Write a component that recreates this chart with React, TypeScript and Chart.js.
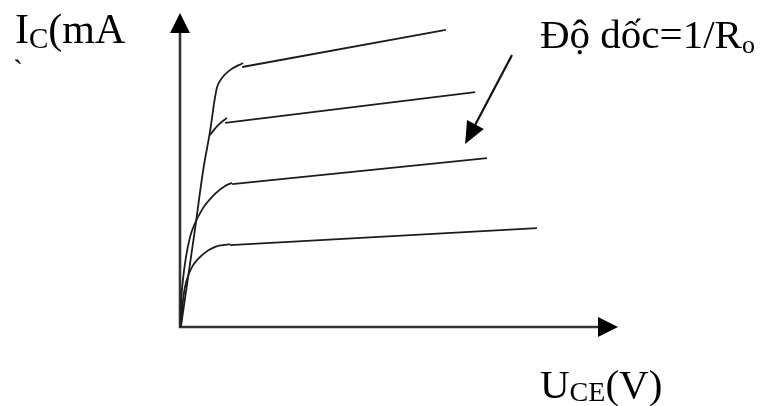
import React, { useEffect, useRef } from "react";
import { Chart, registerables } from "chart.js";

Chart.register(...registerables);

// Axis ranges (arbitrary units: U_CE in V, I_C in mA)
const U_MAX = 10;
const I_MAX = 10;

// Output characteristics: rising (saturation) parts and flat (active) parts
const steepAndTop: [number, number][] = [
  [0.02, 0], [0.34, 3.09], [0.53, 5.0], [0.68, 6.18], [0.84, 7.61], [0.94, 7.9], [1.14, 8.18], [1.44, 8.41],
];
const curve4Flat: [number, number][] = [[1.42, 8.28], [6.07, 9.46]];
const curve3Knee: [number, number][] = [[0.68, 6.11], [0.87, 6.43], [1.07, 6.66]];
const curve3Flat: [number, number][] = [[1.03, 6.5], [6.74, 7.48]];
const curve2Knee: [number, number][] = [
  [0.02, 0.06], [0.05, 1.27], [0.23, 2.87], [0.5, 3.73], [0.8, 4.24], [1.03, 4.49], [1.19, 4.59],
];
const curve2Flat: [number, number][] = [[1.19, 4.55], [7.01, 5.38]];
const curve1Knee: [number, number][] = [
  [0.02, 0.06], [0.07, 0.86], [0.14, 1.43], [0.3, 1.97], [0.53, 2.32], [0.8, 2.55], [1.14, 2.64],
];
const curve1Flat: [number, number][] = [[1.14, 2.61], [8.15, 3.15]];

// Slope annotation arrow (from, to) in data units
const slopeArrow: [number, number][] = [[7.58, 8.66], [6.51, 5.83]];

const yLabelMain = "I";
const yLabelSub = "C";
const yLabelRest = "(mA";
const xLabelMain = "U";
const xLabelSub = "CE";
const xLabelRest = "(V)";
const slopeLabel = "Độ dốc=1/R";
const slopeLabelSub = "o";

const FONT = "'Liberation Serif', 'Times New Roman', serif";

function toPts(a: [number, number][]) {
  return a.map(([x, y]) => ({ x, y }));
}

function triangle(ctx: CanvasRenderingContext2D, tipX: number, tipY: number, dx: number, dy: number, len: number, half: number) {
  const bx = tipX - dx * len;
  const by = tipY - dy * len;
  const px = -dy, py = dx;
  ctx.beginPath();
  ctx.moveTo(tipX, tipY);
  ctx.lineTo(bx + px * half, by + py * half);
  ctx.lineTo(bx - px * half, by - py * half);
  ctx.closePath();
  ctx.fill();
}

const decorPlugin = {
  id: "decor",
  beforeDatasetsDraw(chart: any) {
    const ctx: CanvasRenderingContext2D = chart.ctx;
    const xs = chart.scales.x, ys = chart.scales.y;
    const x0 = xs.getPixelForValue(0), y0 = ys.getPixelForValue(0);
    const xTip = xs.getPixelForValue(U_MAX), yTip = ys.getPixelForValue(I_MAX);
    ctx.save();
    ctx.strokeStyle = "#333";
    ctx.fillStyle = "#000";
    ctx.lineWidth = 2.6;
    ctx.beginPath();
    ctx.moveTo(x0, y0 + 1);
    ctx.lineTo(x0, yTip + 15);
    ctx.moveTo(x0 - 1, y0);
    ctx.lineTo(xTip - 15, y0);
    ctx.stroke();
    triangle(ctx, x0, yTip, 0, -1, 20, 10);
    triangle(ctx, xTip, y0, 1, 0, 20, 10);
    ctx.restore();
  },
  afterDatasetsDraw(chart: any) {
    const ctx: CanvasRenderingContext2D = chart.ctx;
    const xs = chart.scales.x, ys = chart.scales.y;
    ctx.save();
    // slope arrow
    const ax = xs.getPixelForValue(slopeArrow[0][0]), ay = ys.getPixelForValue(slopeArrow[0][1]);
    const bx = xs.getPixelForValue(slopeArrow[1][0]), by = ys.getPixelForValue(slopeArrow[1][1]);
    const L = Math.hypot(bx - ax, by - ay);
    const dx = (bx - ax) / L, dy = (by - ay) / L;
    ctx.strokeStyle = "#111";
    ctx.fillStyle = "#000";
    ctx.lineWidth = 2.2;
    ctx.beginPath();
    ctx.moveTo(ax, ay);
    ctx.lineTo(bx - dx * 16, by - dy * 16);
    ctx.stroke();
    triangle(ctx, bx, by, dx, dy, 22, 9.5);

    // texts
    ctx.fillStyle = "#000";
    ctx.textBaseline = "alphabetic";
    ctx.textAlign = "left";
    const big = `41px ${FONT}`;
    const small = `28px ${FONT}`;
    // y label
    let x = 15;
    ctx.font = `42px ${FONT}`;
    ctx.fillText(yLabelMain, x, 43);
    x += ctx.measureText(yLabelMain).width;
    ctx.font = `29px ${FONT}`;
    ctx.fillText(yLabelSub, x, 48);
    x += ctx.measureText(yLabelSub).width;
    ctx.font = `42px ${FONT}`;
    ctx.fillText(yLabelRest, x, 43);
    ctx.font = `30px ${FONT}`;
    ctx.fillText("`", 13, 80);
    // x label
    x = 540;
    ctx.font = big;
    ctx.fillText(xLabelMain, x, 398);
    x += ctx.measureText(xLabelMain).width;
    ctx.font = small;
    ctx.fillText(xLabelSub, x, 401);
    x += ctx.measureText(xLabelSub).width;
    ctx.font = big;
    ctx.fillText(xLabelRest, x, 398);
    // slope label
    x = 540;
    ctx.font = big;
    ctx.fillText(slopeLabel, x, 48);
    x += ctx.measureText(slopeLabel).width;
    ctx.font = `26px ${FONT}`;
    ctx.fillText(slopeLabelSub, x, 53);
    ctx.restore();
  },
};

export default function App() {
  const ref = useRef<HTMLCanvasElement | null>(null);
  useEffect(() => {
    if (!ref.current) return;
    const line = (data: [number, number][], tension: number) => ({
      data: toPts(data),
      showLine: true,
      borderColor: "#1c1c1c",
      borderWidth: 1.8,
      pointRadius: 0,
      tension,
      fill: false,
    });
    const chart = new Chart(ref.current, {
      type: "scatter",
      data: {
        datasets: [
          line(steepAndTop, 0.4),
          line(curve4Flat, 0),
          line(curve3Knee, 0.4),
          line(curve3Flat, 0),
          line(curve2Knee, 0.4),
          line(curve2Flat, 0),
          line(curve1Knee, 0.4),
          line(curve1Flat, 0),
        ],
      },
      options: {
        responsive: false,
        animation: false,
        layout: { padding: { left: 180, right: 150, top: 13, bottom: 79 } },
        scales: {
          x: { type: "linear", min: 0, max: U_MAX, display: false },
          y: { type: "linear", min: 0, max: I_MAX, display: false },
        },
        plugins: { legend: { display: false }, tooltip: { enabled: false } },
        elements: { line: { capBezierPoints: true } },
      },
      plugins: [decorPlugin],
    });
    return () => chart.destroy();
  }, []);
  return (
    <div style={{ position: "absolute", left: 0, top: 0, width: 768, height: 406, background: "#fff" }}>
      <canvas ref={ref} width={768} height={406} style={{ display: "block" }} />
    </div>
  );
}
